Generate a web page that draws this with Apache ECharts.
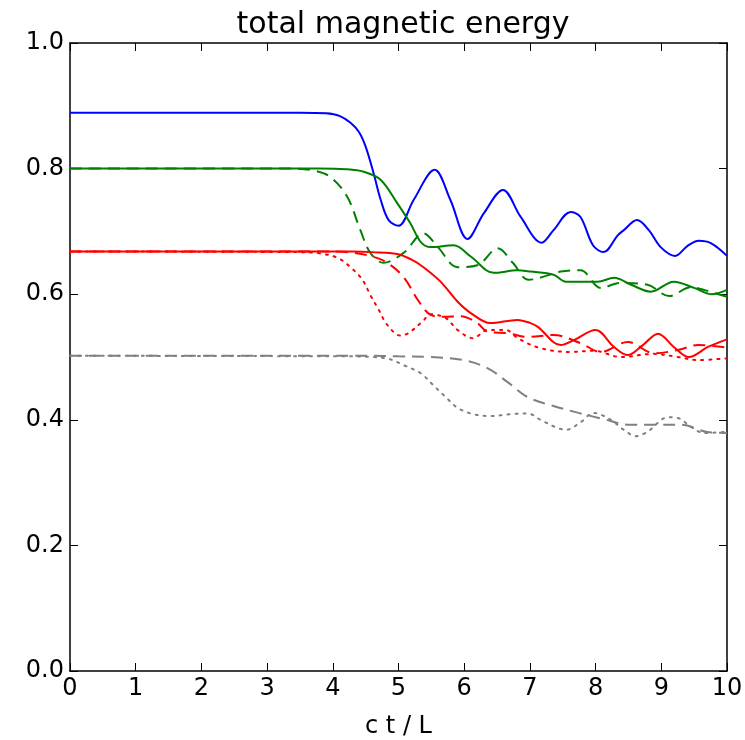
<!DOCTYPE html>
<html>
<head>
<meta charset="utf-8">
<script src="https://cdn.jsdelivr.net/npm/echarts@6/dist/echarts.min.js"></script>
<style>html,body{margin:0;padding:0;background:#fff}#c{width:745px;height:740px}</style>
</head>
<body>
<div id="c"></div>
<script>
var title = "total magnetic energy";
var xName = "c t / L";
var xTicks = [0,1,2,3,4,5,6,7,8,9,10];
var yTicks = [0.0,0.2,0.4,0.6,0.8,1.0];

var blueSolid = [[0,0.889],[3.5,0.889],[3.9,0.888],[4.1,0.884],[4.27,0.873],[4.4,0.858],[4.5,0.835],[4.62,0.793],[4.73,0.75],[4.85,0.718],[5.0,0.709],[5.23,0.75],[5.55,0.798],[5.79,0.75],[6.05,0.688],[6.3,0.729],[6.59,0.766],[6.86,0.723],[7.18,0.682],[7.36,0.702],[7.62,0.731],[7.77,0.723],[7.96,0.678],[8.12,0.667],[8.34,0.694],[8.43,0.702],[8.63,0.718],[8.81,0.702],[8.99,0.675],[9.21,0.661],[9.4,0.677],[9.57,0.685],[9.76,0.681],[10,0.661]];
var greenSolid = [[0,0.8],[3.8,0.8],[4.2,0.799],[4.47,0.795],[4.73,0.782],[4.98,0.745],[5.18,0.713],[5.34,0.683],[5.49,0.675],[5.84,0.678],[6.1,0.66],[6.45,0.634],[6.81,0.638],[7.01,0.636],[7.36,0.631],[7.55,0.62],[8.03,0.62],[8.28,0.626],[8.54,0.615],[8.84,0.604],[9.19,0.62],[9.5,0.61],[9.76,0.6],[10,0.607]];
var greenDashed = [[0,0.8],[3.4,0.8],[3.7,0.797],[3.96,0.787],[4.22,0.755],[4.42,0.702],[4.57,0.666],[4.77,0.65],[5.08,0.666],[5.38,0.697],[5.6,0.675],[5.9,0.643],[6.2,0.646],[6.51,0.673],[6.74,0.65],[6.98,0.623],[7.47,0.636],[7.77,0.638],[8.08,0.61],[8.38,0.618],[8.79,0.615],[9.12,0.597],[9.45,0.611],[9.8,0.602],[10,0.596]];
var redSolid = [[0,0.668],[4.3,0.668],[4.6,0.667],[4.98,0.664],[5.2,0.655],[5.38,0.643],[5.64,0.62],[5.9,0.588],[6.1,0.57],[6.4,0.554],[6.81,0.559],[7.01,0.554],[7.12,0.548],[7.47,0.519],[7.67,0.527],[8.0,0.543],[8.28,0.516],[8.49,0.503],[8.72,0.519],[8.95,0.537],[9.19,0.516],[9.42,0.5],[9.71,0.516],[10,0.528]];
var redDashed = [[0,0.668],[4.0,0.668],[4.3,0.666],[4.6,0.66],[4.83,0.65],[5.08,0.627],[5.3,0.59],[5.49,0.567],[5.69,0.564],[5.95,0.565],[6.2,0.554],[6.36,0.54],[6.66,0.538],[6.97,0.532],[7.36,0.535],[7.77,0.522],[8.08,0.508],[8.49,0.524],[8.89,0.506],[9.25,0.511],[9.56,0.519],[10,0.515]];
var redDotted = [[0,0.668],[3.5,0.667],[3.8,0.665],[4.07,0.658],[4.27,0.643],[4.45,0.623],[4.57,0.599],[4.7,0.575],[4.83,0.551],[5.03,0.534],[5.15,0.538],[5.37,0.557],[5.49,0.568],[5.72,0.562],[5.9,0.543],[6.13,0.53],[6.36,0.543],[6.63,0.543],[6.83,0.529],[7.16,0.514],[7.62,0.508],[7.97,0.51],[8.38,0.5],[8.89,0.505],[9.25,0.5],[9.56,0.495],[10,0.498]];
var grayDashed = [[0,0.502],[4.5,0.502],[5.0,0.501],[5.49,0.5],[5.99,0.495],[6.36,0.482],[6.66,0.46],[6.97,0.436],[7.36,0.422],[7.74,0.411],[8.13,0.401],[8.51,0.392],[8.89,0.392],[9.3,0.392],[9.68,0.381],[10,0.379]];
var grayDotted = [[0,0.502],[4.3,0.501],[4.6,0.5],[4.85,0.497],[5.08,0.487],[5.34,0.474],[5.53,0.455],[5.72,0.436],[5.9,0.419],[6.14,0.409],[6.4,0.406],[6.71,0.409],[6.97,0.41],[7.16,0.4],[7.42,0.387],[7.55,0.384],[7.77,0.396],[7.97,0.411],[8.23,0.4],[8.43,0.384],[8.61,0.374],[8.79,0.381],[9.1,0.404],[9.25,0.403],[9.45,0.389],[9.65,0.379],[10,0.381]];

var FONT = "DejaVu Sans";
function mk(data, color, type) {
  var lt = type === 'solid' ? 'solid' : (type === 'dashed' ? [12, 7] : [2, 6]);
  return {
    type: 'line', data: data, showSymbol: false, smooth: 0.35,
    lineStyle: {color: color, width: 2, type: lt, cap: type === 'dotted' ? 'round' : 'butt'},
    itemStyle: {color: color}, animation: false, z: 2
  };
}
function axisBase() {
  return {
    type: 'value',
    axisLine: {show: true, onZero: false, lineStyle: {color: '#000', width: 1.5}},
    axisTick: {show: true, inside: true, length: 8, lineStyle: {color: '#000', width: 1}},
    splitLine: {show: false}
  };
}
var chart = echarts.init(document.getElementById('c'), null, {renderer: 'canvas'});
chart.setOption({
  backgroundColor: '#fff',
  animation: false,
  title: {text: title, left: 398, textAlign: 'center', top: 5,
    textStyle: {fontFamily: FONT, fontSize: 30, fontWeight: 'normal', color: '#000'}},
  grid: {left: 70, right: 18, top: 43, bottom: 69, containLabel: false, outerBoundsMode: 'none'},
  xAxis: [
    Object.assign(axisBase(), {
      min: 0, max: 10, interval: 1,
      position: 'bottom', name: xName, nameLocation: 'middle', nameGap: 44,
      nameTextStyle: {fontFamily: FONT, fontSize: 24, color: '#000'},
      axisLabel: {fontFamily: FONT, fontSize: 24, color: '#000', margin: 6, formatter: function(v){return String(v);}}
    }),
    Object.assign(axisBase(), {min: 0, max: 10, interval: 1, position: 'top', axisLabel: {show: false}})
  ],
  yAxis: [
    Object.assign(axisBase(), {
      min: 0, max: 1, interval: 0.2, position: 'left',
      axisLabel: {fontFamily: FONT, fontSize: 24, color: '#000', margin: 6, formatter: function(v){return v.toFixed(1);}}
    }),
    Object.assign(axisBase(), {min: 0, max: 1, interval: 0.2, position: 'right', axisLabel: {show: false}})
  ],
  series: [
    mk(blueSolid, '#0000ff', 'solid'),
    mk(greenSolid, '#008000', 'solid'),
    mk(greenDashed, '#008000', 'dashed'),
    mk(redSolid, '#ff0000', 'solid'),
    mk(redDashed, '#ff0000', 'dashed'),
    mk(redDotted, '#ff0000', 'dotted'),
    mk(grayDashed, '#808080', 'dashed'),
    mk(grayDotted, '#808080', 'dotted')
  ]
});
</script>
</body>
</html>
